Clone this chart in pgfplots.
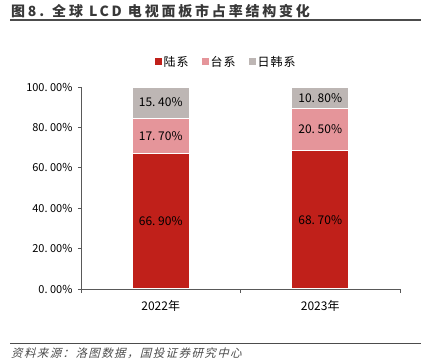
\documentclass[border=0pt]{standalone}
\usepackage{pgfplots}
\pgfplotsset{compat=1.18}
\usepackage{fontspec}
\setmainfont{Noto Sans CJK SC}
\newfontfamily\srcfont[FakeSlant=0.25,LetterSpace=12]{Noto Sans CJK SC}
\newfontfamily\titlefont[LetterSpace=20]{Noto Sans CJK SC}
\newfontfamily\legfont[LetterSpace=8]{Noto Sans CJK SC}
\definecolor{cRed}{HTML}{C0201A}
\definecolor{cPink}{HTML}{E5959A}
\definecolor{cGray}{HTML}{BDB6B4}
\definecolor{axgray}{HTML}{595959}
\begin{document}
\begin{tikzpicture}[x=1pt,y=1pt]
\path[use as bounding box] (0,0) rectangle (421,363);
\node[anchor=west, inner sep=0pt, font=\titlefont\fontsize{14}{16}\selectfont\bfseries, text=black!78] at (11,352) {图8. 全球 LCD 电视面板市占率结构变化};
\draw[line width=1.5pt, black!70] (10,343) -- (421,343);
\draw[line width=1pt, black!70] (10,19.5) -- (421,19.5);
\node[anchor=west, inner sep=0pt, font=\srcfont\fontsize{11.5}{13}\selectfont, text=black!70] at (11,10) {资料来源：洛图数据，国投证券研究中心};
\begin{axis}[
  at={(81pt,74pt)}, anchor=south west, scale only axis,
  width=319pt, height=202pt,
  ybar stacked, bar width=57pt,
  ymin=0, ymax=100, xmin=-0.5, xmax=1.5,
  axis lines*=left,
  axis line style={axgray, line width=0.8pt},
  xtick={0,1}, xticklabels={2022年,2023年},
  major x tick style={draw=none},
  minor xtick={-0.5,0.5,1.5},
  minor tick length=4pt,
  ytick={0,20,...,100},
  yticklabel={\pgfmathprintnumber[fixed,fixed zerofill,precision=2,dec sep={.\ }]{\tick}\%},
  tick align=outside, major tick length=3pt,
  tick style={axgray, line width=0.8pt},
  /pgf/number format/assume math mode=true,
  yticklabel style={font=\fontsize{11}{12}\selectfont, text=black, xshift=-2pt},
  xticklabel style={font=\fontsize{12}{13}\selectfont, text=black, yshift=-5pt},
  point meta=rawy,
  nodes near coords={\pgfmathprintnumber[fixed,fixed zerofill,precision=2,dec sep={.\ }]{\pgfplotspointmeta}\%},
  every node near coord/.append style={anchor=center, font=\fontsize{12}{13}\selectfont, text=black},
  legend style={draw=none, at={(0.455,1.124)}, anchor=center, legend columns=3,
    font=\legfont\fontsize{12}{13}\selectfont,
    /tikz/every even column/.append style={column sep=11pt}},
  legend image code/.code={\path[#1,draw=none] (0pt,-3.5pt) rectangle (7pt,3.5pt);},
]
\addplot[fill=cRed, draw=white, line width=1.2pt] coordinates {(0,66.9) (1,68.7)};
\addlegendentry{陆系}
\addplot[fill=cPink, draw=white, line width=1.2pt] coordinates {(0,17.7) (1,20.5)};
\addlegendentry{台系}
\addplot[fill=cGray, draw=white, line width=1.2pt] coordinates {(0,15.4) (1,10.8)};
\addlegendentry{日韩系}
\end{axis}
\end{tikzpicture}
\end{document}
